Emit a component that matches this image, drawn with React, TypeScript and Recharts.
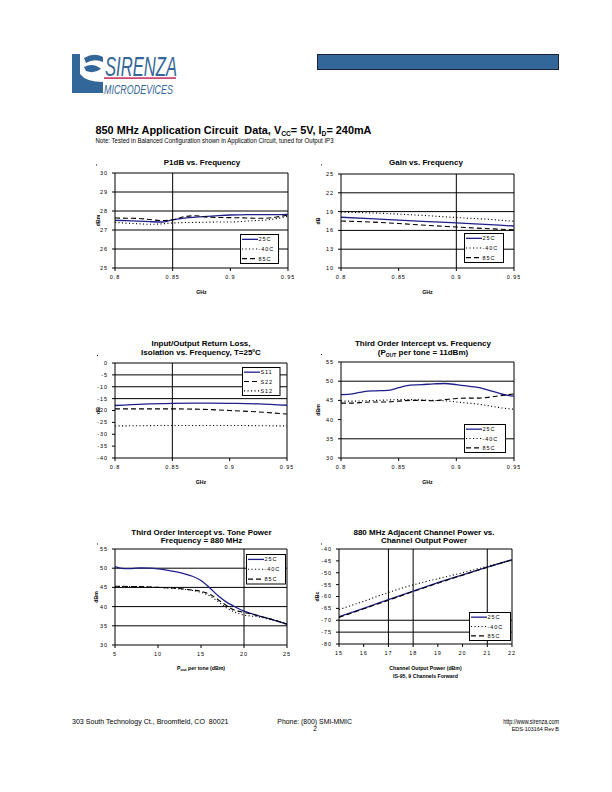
import React from 'react';
import { LineChart, Line, XAxis, YAxis, ReferenceLine } from 'recharts';

const FONT = '"Liberation Sans", Arial, Helvetica, sans-serif';
const BLUE = '#1f1f8a';
const DOT = '1.1 2.4';
const DASH = '5 3';

// ---------- Chart 1: P1dB vs Frequency ----------
const p1Freq = [0.8, 0.81, 0.82, 0.83, 0.84, 0.85, 0.86, 0.87, 0.88, 0.89, 0.9, 0.91, 0.92, 0.93, 0.94, 0.95];
const p1_25C = [27.51, 27.49, 27.47, 27.44, 27.42, 27.53, 27.62, 27.68, 27.72, 27.76, 27.79, 27.8, 27.81, 27.81, 27.81, 27.82];
const p1_m40C = [27.4, 27.36, 27.33, 27.3, 27.32, 27.37, 27.39, 27.4, 27.41, 27.42, 27.42, 27.45, 27.49, 27.52, 27.6, 27.72];
const p1_85C = [27.63, 27.62, 27.61, 27.55, 27.5, 27.54, 27.7, 27.75, 27.68, 27.66, 27.65, 27.64, 27.62, 27.62, 27.68, 27.79];

// ---------- Chart 2: Gain vs Frequency ----------
const gFreq = [0.8, 0.825, 0.85, 0.875, 0.9, 0.925, 0.95];
const g_25C = [18.1, 17.87, 17.63, 17.4, 17.2, 16.95, 16.7];
const g_m40C = [18.9, 18.8, 18.6, 18.35, 18.05, 17.8, 17.45];
const g_85C = [17.5, 17.35, 17.1, 16.8, 16.55, 16.3, 16.1];

// ---------- Chart 3: Return loss / isolation ----------
const sFreq = [0.8, 0.825, 0.85, 0.875, 0.9, 0.925, 0.95];
const s11 = [-17.9, -17.3, -17.0, -16.9, -17.0, -17.2, -17.8];
const s22 = [-19.3, -19.3, -19.3, -19.5, -20.0, -20.6, -21.5];
const s12 = [-26.5, -26.4, -26.3, -26.3, -26.3, -26.4, -26.5];

// ---------- Chart 4: IP3 vs Frequency ----------
const ipFreq = [0.8, 0.81, 0.82, 0.83, 0.84, 0.85, 0.86, 0.87, 0.88, 0.89, 0.9, 0.91, 0.92, 0.93, 0.94, 0.95];
const ip_25C = [46.5, 46.7, 47.3, 47.5, 47.6, 48.3, 49.0, 49.1, 49.3, 49.4, 49.1, 48.7, 48.3, 47.5, 46.6, 46.1];
const ip_m40C = [44.8, 44.8, 44.9, 45.0, 45.1, 45.2, 45.2, 45.1, 45.0, 44.9, 44.6, 44.3, 44.0, 43.5, 43.0, 42.7];
const ip_85C = [44.3, 44.3, 44.5, 44.6, 44.6, 44.8, 45.0, 45.0, 44.9, 45.2, 45.5, 45.6, 45.6, 45.9, 46.3, 46.7];

// ---------- Chart 5: IP3 vs Tone Power ----------
const tpPout = [5, 6, 7, 8, 9, 10, 11, 12, 13, 14, 15, 16, 17, 18, 19, 20, 21, 22, 23, 24, 25];
const tp_25C = [50.4, 49.9, 49.9, 50.1, 50.0, 49.8, 49.5, 49.1, 48.6, 47.9, 46.8, 44.9, 42.8, 41.1, 39.9, 38.8, 38.1, 37.4, 36.8, 36.1, 35.4];
const tp_m40C = [45.2, 45.2, 45.2, 45.2, 45.1, 45.0, 44.9, 44.7, 44.5, 44.2, 43.7, 42.8, 41.3, 39.6, 38.5, 37.8, 37.5, 37.2, 36.7, 36.2, 35.5];
const tp_85C = [45.3, 45.3, 45.2, 45.2, 45.1, 45.0, 44.9, 44.8, 44.6, 44.3, 44.0, 43.2, 41.8, 40.2, 39.0, 38.5, 38.0, 37.4, 36.8, 36.2, 35.4];

// ---------- Chart 6: ACP vs Channel Output Power ----------
const acpPout = [15, 16, 17, 18, 19, 20, 21, 22];
const acp_25C = [-68.5, -65.0, -61.3, -57.7, -54.2, -50.9, -47.6, -44.5];
const acp_m40C = [-65.5, -62.0, -58.3, -55.1, -52.5, -50.0, -47.3, -44.8];
const acp_85C = [-68.8, -65.2, -61.6, -57.9, -54.4, -51.0, -47.7, -44.6];

// tick labels
const freqTicks = [0.8, 0.85, 0.9, 0.95];
const p1Ticks = [25, 26, 27, 28, 29, 30];
const gTicks = [10, 13, 16, 19, 22, 25];
const sTicks = [-40, -35, -30, -25, -20, -15, -10, -5, 0];
const ipTicks = [30, 35, 40, 45, 50, 55];
const tpXTicks = [5, 10, 15, 20, 25];
const acpXTicks = [15, 16, 17, 18, 19, 20, 21, 22];
const acpYTicks = [-80, -75, -70, -65, -60, -55, -50, -45, -40];

const tempNames = ['25C', '-40C', '85C'];
const sNames = ['S11', 'S22', 'S12'];

type SeriesDef = { key: string; name: string; values: number[]; color: string; dash?: string };

interface PanelProps {
  plotLeft: number;
  plotTop: number;
  plotWidth: number;
  plotHeight: number;
  xs: number[];
  series: SeriesDef[];
  xDomain: [number, number];
  xTicks: number[];
  yDomain: [number, number];
  yTicks: number[];
  hLines: number[];
  vLines: number[];
}

const ML = 40;
const MB = 24;
const MT = 6;
const MR = 6;

const tickStyle = { fontSize: 5.5, fill: '#000', fontFamily: FONT, letterSpacing: 0.9 };

function Panel(p: PanelProps) {
  const data = p.xs.map((x, i) => {
    const row: Record<string, number> = { x };
    p.series.forEach((s) => {
      row[s.key] = s.values[i];
    });
    return row;
  });
  return (
    <div style={{ position: 'absolute', left: p.plotLeft - ML, top: p.plotTop - MT }}>
      <LineChart
        width={p.plotWidth + ML + MR}
        height={p.plotHeight + MT + MB}
        data={data}
        margin={{ top: MT, right: MR, left: 0, bottom: 0 }}
      >
        <XAxis
          type="number"
          dataKey="x"
          domain={p.xDomain}
          ticks={p.xTicks}
          interval={0}
          height={MB}
          tickSize={3}
          tickMargin={4}
          allowDataOverflow
          axisLine={{ stroke: '#000', strokeWidth: 1 }}
          tickLine={{ stroke: '#000' }}
          tick={tickStyle}
        />
        <YAxis
          type="number"
          domain={p.yDomain}
          ticks={p.yTicks}
          interval={0}
          width={ML}
          tickSize={3}
          tickMargin={4}
          allowDataOverflow
          axisLine={{ stroke: '#000', strokeWidth: 1 }}
          tickLine={{ stroke: '#000' }}
          tick={tickStyle}
        />
        {p.hLines.map((y) => (
          <ReferenceLine key={'h' + y} y={y} stroke="#000" strokeWidth={1} />
        ))}
        {p.vLines.map((x) => (
          <ReferenceLine key={'v' + x} x={x} stroke="#000" strokeWidth={1} />
        ))}
        <ReferenceLine y={p.yDomain[1]} stroke="#000" strokeWidth={1} />
        <ReferenceLine x={p.xDomain[1]} stroke="#000" strokeWidth={1} />
        {p.series.map((s) => (
          <Line
            key={s.key}
            dataKey={s.key}
            name={s.name}
            type="monotone"
            stroke={s.color}
            strokeWidth={s.dash ? 1.1 : 1.3}
            strokeDasharray={s.dash}
            dot={false}
            activeDot={false}
            isAnimationActive={false}
          />
        ))}
      </LineChart>
    </div>
  );
}

function LegendBox({ x, y, w, h, items }: { x: number; y: number; w: number; h: number; items: SeriesDef[] }) {
  return (
    <svg style={{ position: 'absolute', left: x, top: y }} width={w + 1} height={h + 1}>
      <rect x={0.5} y={0.5} width={w} height={h} fill="#fff" stroke="#000" strokeWidth={1} />
      {items.map((s, i) => {
        const cy = 0.5 + (h * (i + 0.5)) / items.length;
        return (
          <g key={s.key}>
            <line x1={2} x2={18} y1={cy} y2={cy} stroke={s.color} strokeWidth={s.dash ? 1.1 : 1.3} strokeDasharray={s.dash} />
            <text x={18.5} y={cy + 2} fontSize={5.5} fontFamily={FONT} letterSpacing={0.9} fill="#000">
              {s.name}
            </text>
          </g>
        );
      })}
    </svg>
  );
}

function tempSeries(a: number[], b: number[], c: number[]): SeriesDef[] {
  return [
    { key: 't25', name: tempNames[0], values: a, color: BLUE },
    { key: 'tm40', name: tempNames[1], values: b, color: '#000', dash: DOT },
    { key: 't85', name: tempNames[2], values: c, color: '#000', dash: DASH },
  ];
}

const c1 = tempSeries(p1_25C, p1_m40C, p1_85C);
const c2 = tempSeries(g_25C, g_m40C, g_85C);
const c3: SeriesDef[] = [
  { key: 's11', name: sNames[0], values: s11, color: BLUE },
  { key: 's22', name: sNames[1], values: s22, color: '#000', dash: DASH },
  { key: 's12', name: sNames[2], values: s12, color: '#000', dash: DOT },
];
const c4 = tempSeries(ip_25C, ip_m40C, ip_85C);
const c5 = tempSeries(tp_25C, tp_m40C, tp_85C);
const c6 = tempSeries(acp_25C, acp_m40C, acp_85C);

const T = { fontFamily: FONT, fill: '#000' } as const;
const NARROW = '"Liberation Sans Narrow", "Liberation Sans", Arial';

export default function App() {
  return (
    <div style={{ position: 'absolute', left: 0, top: 0, width: 612, height: 792, background: '#fff', overflow: 'hidden' }}>
      <Panel plotLeft={115} plotTop={173} plotWidth={173} plotHeight={95} xs={p1Freq} series={c1}
        xDomain={[0.8, 0.95]} xTicks={freqTicks} yDomain={[25, 30]} yTicks={p1Ticks} hLines={[26, 27, 28, 29]} vLines={[0.85]} />
      <Panel plotLeft={341} plotTop={174} plotWidth={173} plotHeight={94} xs={gFreq} series={c2}
        xDomain={[0.8, 0.95]} xTicks={freqTicks} yDomain={[10, 25]} yTicks={gTicks} hLines={[13, 16, 19, 22]} vLines={[0.9]} />
      <Panel plotLeft={115} plotTop={363} plotWidth={172} plotHeight={95} xs={sFreq} series={c3}
        xDomain={[0.8, 0.95]} xTicks={freqTicks} yDomain={[-40, 0]} yTicks={sTicks} hLines={[-5, -10, -15]} vLines={[0.85]} />
      <Panel plotLeft={341} plotTop={362} plotWidth={173} plotHeight={96} xs={ipFreq} series={c4}
        xDomain={[0.8, 0.95]} xTicks={freqTicks} yDomain={[30, 55]} yTicks={ipTicks} hLines={[50, 35]} vLines={[]} />
      <Panel plotLeft={115} plotTop={549} plotWidth={172} plotHeight={96} xs={tpPout} series={c5}
        xDomain={[5, 25]} xTicks={tpXTicks} yDomain={[30, 55]} yTicks={ipTicks} hLines={[35, 40, 45, 50]} vLines={[20]} />
      <Panel plotLeft={339} plotTop={549} plotWidth={173} plotHeight={95} xs={acpPout} series={c6}
        xDomain={[15, 22]} xTicks={acpXTicks} yDomain={[-80, -40]} yTicks={acpYTicks} hLines={[-70, -75]} vLines={[17, 18, 21]} />

      <svg style={{ position: 'absolute', left: 0, top: 0 }} width={612} height={792}>
        {/* Logo */}
        <g fill="#336699">
          <path d="M72 54 L80 54 L80 74 Q86 82 103 82 L103 93 L72 93 Z" />
          <path d="M84 58 Q94 52 103 57 L103 62 Q94 58 86 63 Z" />
          <path d="M84 67 Q93 62 101 69 Q94 74 86 71 Z" />
        </g>
        <text x={105} y={75.5} fontSize={27} fontFamily={NARROW} fontStyle="italic"
          fill="#336699" textLength={72} lengthAdjust="spacingAndGlyphs">SIRENZA</text>
        <rect x={104} y={77.3} width={72} height={1.6} fill="#cc3366" />
        <text x={104} y={93.5} fontSize={12} fontFamily={NARROW} fontStyle="italic"
          fill="#336699" textLength={69} lengthAdjust="spacingAndGlyphs">MICRODEVICES</text>
        <rect x={317.5} y={54.5} width={241} height={15} fill="#336699" stroke="#1a2233" strokeWidth={1} />

        {/* Heading */}
        <text x={95.5} y={134} fontSize={10.5} fontWeight="bold" {...T} textLength={276} lengthAdjust="spacingAndGlyphs">
          850 MHz Application Circuit{'\u00a0'} Data, V<tspan fontSize={6.5} dy={2}>CC</tspan><tspan dy={-2}>= 5V, I</tspan><tspan fontSize={6.5} dy={2}>D</tspan><tspan dy={-2}>= 240mA</tspan>
        </text>
        <text x={95.5} y={142.5} fontSize={6.3} {...T} textLength={238} lengthAdjust="spacingAndGlyphs">
          Note: Tested in Balanced Configuration shown in Application Circuit, tuned for Output IP3
        </text>

        {/* stray marks */}
        <rect x={96} y={164.5} width={1} height={1} fill="#000" />
        <rect x={321} y={164.5} width={1} height={1} fill="#000" />
        <rect x={97} y={355} width={1} height={1} fill="#000" />
        <rect x={321} y={354} width={1} height={1} fill="#000" />
        <rect x={97} y={543.5} width={1} height={1} fill="#000" />
        <rect x={321} y={543.5} width={1} height={1} fill="#000" />

        {/* Chart titles */}
        <g fontSize={8} fontWeight="bold" textAnchor="middle" {...T}>
          <text x={202} y={165}>P1dB vs. Frequency</text>
          <text x={426} y={165}>Gain vs. Frequency</text>
          <text x={201} y={346}>Input/Output Return Loss,</text>
          <text x={201} y={355}>Isolation vs. Frequency, T=25<tspan fontSize={4.5} dy={-3}>o</tspan><tspan dy={3}>C</tspan></text>
          <text x={423} y={346}>Third Order Intercept vs. Frequency</text>
          <text x={423} y={355}>(P<tspan fontSize={5} dy={1.5}>OUT</tspan><tspan dy={-1.5}> per tone = 11dBm)</tspan></text>
          <text x={201.5} y={535}>Third Order Intercept vs. Tone Power</text>
          <text x={201.5} y={543}>Frequency = 880 MHz</text>
          <text x={424} y={535}>880 MHz Adjacent Channel Power vs.</text>
          <text x={424} y={543}>Channel Output Power</text>
        </g>

        {/* Axis titles */}
        <g fontSize={5.2} fontWeight="bold" textAnchor="middle" {...T}>
          <text x={201.5} y={294}>GHz</text>
          <text x={427.5} y={294}>GHz</text>
          <text x={201} y={484}>GHz</text>
          <text x={427.5} y={484}>GHz</text>
          <text x={201} y={670}>P<tspan fontSize={4} dy={1}>out</tspan><tspan dy={-1}> per tone (dBm)</tspan></text>
          <text x={425.5} y={670}>Channel Output Power (dBm)</text>
          <text x={425.5} y={678}>IS-95, 9 Channels Forward</text>
          <text transform="translate(99.5,220.5) rotate(-90)">dBm</text>
          <text transform="translate(319.5,221) rotate(-90)">dB</text>
          <text transform="translate(99.5,410.5) rotate(-90)">dB</text>
          <text transform="translate(319.5,410) rotate(-90)">dBm</text>
          <text transform="translate(98,597) rotate(-90)">dBm</text>
          <text transform="translate(319,596.5) rotate(-90)">dBc</text>
        </g>

        {/* Footer */}
        <text x={72} y={724} fontSize={6.6} {...T} textLength={156.5} lengthAdjust="spacingAndGlyphs">303 South Technology Ct., Broomfield, CO{'\u00a0'} 80021</text>
        <text x={277.3} y={724} fontSize={6.6} {...T} textLength={74.7} lengthAdjust="spacingAndGlyphs">Phone: (800) SMI-MMIC</text>
        <text x={315} y={731} fontSize={6.6} textAnchor="middle" {...T}>2</text>
        <text x={559} y={724} fontSize={6.6} textAnchor="end" {...T} textLength={55.7} lengthAdjust="spacingAndGlyphs">http://www.sirenza.com</text>
        <text x={559} y={731} fontSize={4.6} textAnchor="end" {...T} textLength={47.3} lengthAdjust="spacingAndGlyphs">EDS-103164 Rev B</text>
      </svg>

      <LegendBox x={240} y={234} w={38} h={29} items={c1} />
      <LegendBox x={464} y={233} w={39} h={29} items={c2} />
      <LegendBox x={242} y={367} w={37.5} h={28} items={c3} />
      <LegendBox x={464} y={424} w={41} h={28} items={c4} />
      <LegendBox x={246} y={554} w={39} h={29.5} items={c5} />
      <LegendBox x={469} y={612} w={41} h={28} items={c6} />
    </div>
  );
}
